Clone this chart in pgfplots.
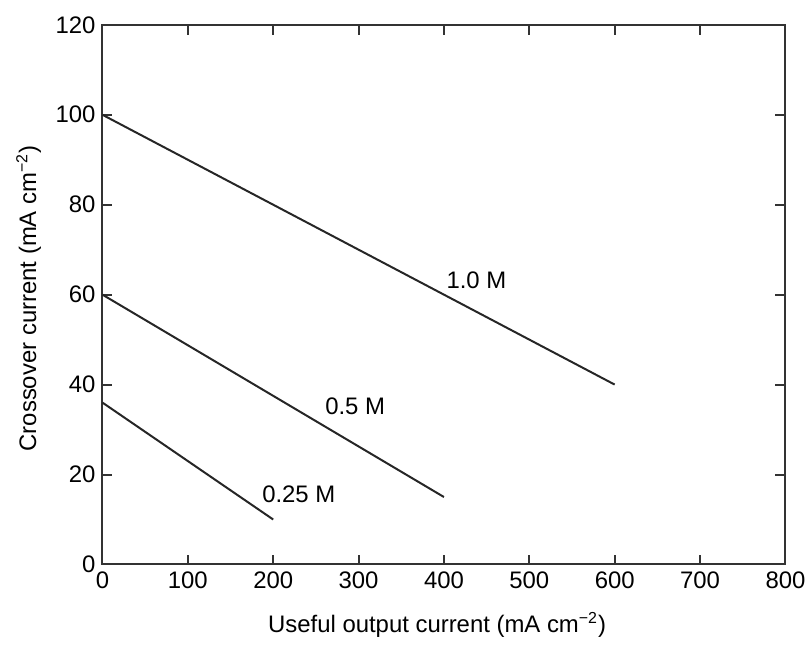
\documentclass[border=0pt]{standalone}
\usepackage{pgfplots}
\pgfplotsset{compat=1.18}
\usepackage{fontspec}
\setmainfont{Liberation Sans}
\begin{document}
\begin{tikzpicture}[font=\fontsize{12}{14}\selectfont]
\begin{axis}[
  scale only axis,
  width=343pt, height=271pt,
  xmin=0, xmax=800, ymin=0, ymax=120,
  xtick={0,100,...,800}, ytick={0,20,...,120},
  tick align=inside,
  major tick length=5pt,
  axis line style={line width=1pt, black!80},
  tick style={line width=1pt, black!80},
  /pgf/number format/assume math mode=true,
  xlabel={Useful output current (mA cm\textsuperscript{−2})},
  ylabel={Crossover current (mA cm\textsuperscript{−2})},
  xlabel style={at={(axis description cs:0.49,-0.1125)}, anchor=center},
  ylabel style={at={(axis description cs:-0.108,0.493)}, anchor=center, rotate=0},
  clip=false,
]
\addplot[line width=1pt, black!85] coordinates {(0,100) (600,40)};
\addplot[line width=1pt, black!85] coordinates {(0,60) (400,15)};
\addplot[line width=1pt, black!85] coordinates {(0,36) (200,10)};
\node at (axis cs:438,63.1) {1.0 M};
\node at (axis cs:296,35.2) {0.5 M};
\node at (axis cs:230,15.7) {0.25 M};
\path (rel axis cs:-0.150,-0.140) rectangle (rel axis cs:1.0335,1.046);
\end{axis}
\end{tikzpicture}
\end{document}
